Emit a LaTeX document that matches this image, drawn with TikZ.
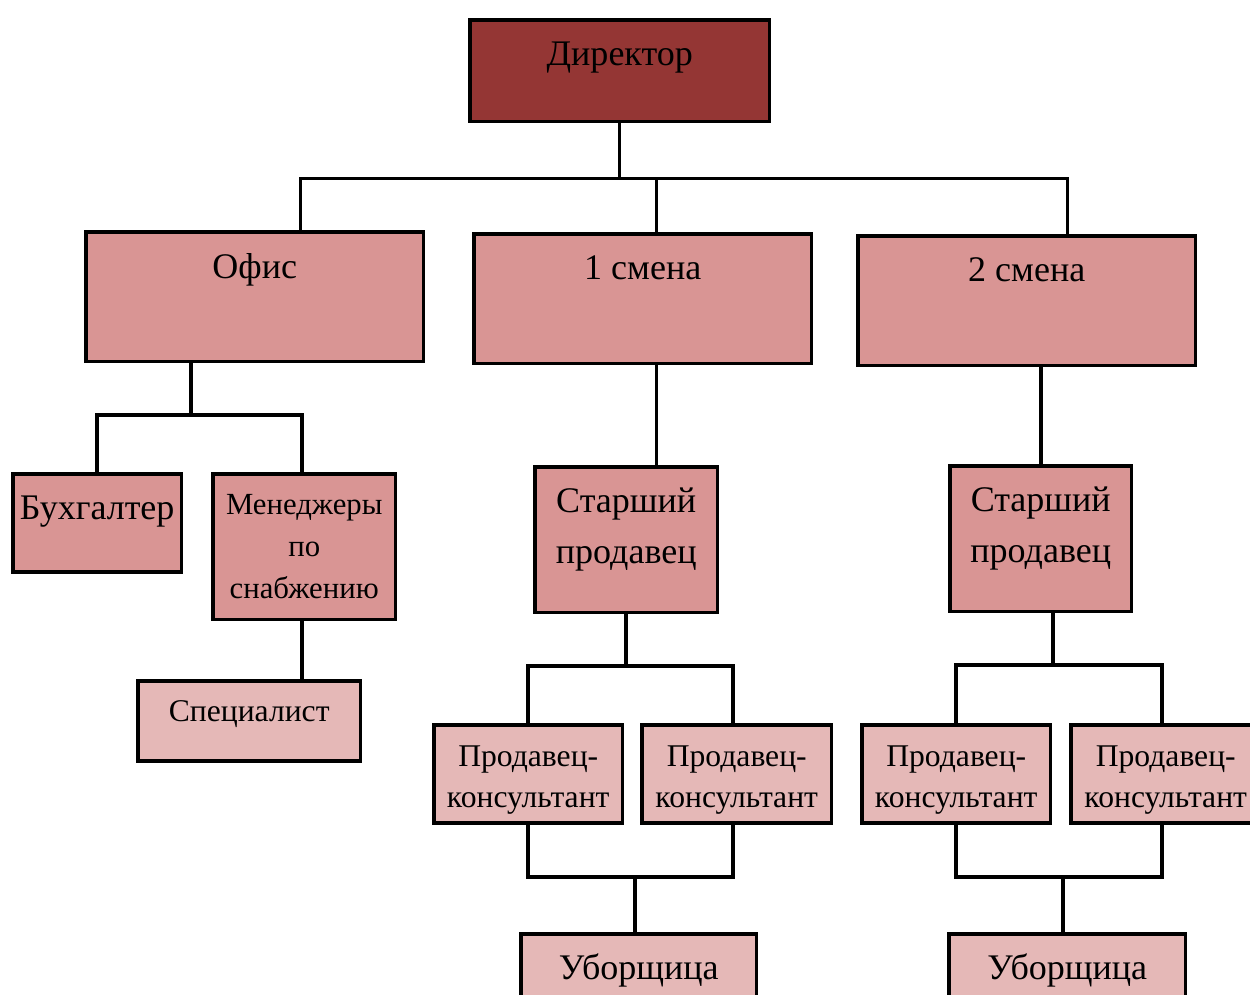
\documentclass[tikz,border=0pt]{standalone}
\usepackage{fontspec}
\setmainfont{Liberation Serif}
\definecolor{dirred}{HTML}{943634}
\definecolor{midrose}{HTML}{D99594}
\definecolor{lightrose}{HTML}{E5B8B7}
\begin{document}
\begin{tikzpicture}[x=0.02cm,y=-0.02cm,
  box/.style={draw, line width=2pt, inner sep=0pt, align=center, anchor=north west},
  big/.style={box, font=\fontsize{20.5}{29}\selectfont},
  small/.style={box, font=\fontsize{18}{23.2}\selectfont},
  link/.style={line width=2pt}]
  \clip (0,0) rectangle (1250,994);
  % top level
  \node[big, fill=dirred, minimum width=6cm, text height=.92cm, text depth=1.12cm] (dir) at (468,18) {Директор};
  \node[big, fill=midrose, minimum width=6.76cm, text height=.94cm, text depth=1.66cm] (ofis) at (84,230) {Офис};
  \node[big, fill=midrose, minimum width=6.76cm, text height=.92cm, text depth=1.68cm] (sm1) at (472,232) {1 смена};
  \node[big, fill=midrose, minimum width=6.76cm, text height=.92cm, text depth=1.68cm] (sm2) at (856,234) {2 смена};
  % office
  \node[big, fill=midrose, minimum width=3.38cm, text height=.92cm, text depth=1.04cm] (buh) at (11,472) {Бухгалтер};
  \node[small, fill=midrose, font=\fontsize{17.5}{23.9}\selectfont, minimum width=3.66cm, text height=2.5cm, text depth=.42cm] (men) at (211,472) {Менеджеры\\по\\снабжению};
  \node[small, fill=lightrose, minimum width=4.46cm, text height=.82cm, text depth=.78cm] (spec) at (136,679) {Специалист};
  % shifts
  \node[big, fill=midrose, minimum width=3.66cm, text height=1.94cm, text depth=.98cm] (st1) at (533,465) {Старший\\продавец};
  \node[big, fill=midrose, minimum width=3.64cm, text height=1.94cm, text depth=.98cm] (st2) at (948,464) {Старший\\продавец};
  \node[small, fill=lightrose, minimum width=3.78cm, text height=1.66cm, text depth=.30cm] (pk1) at (432,723) {Продавец-\\консультант};
  \node[small, fill=lightrose, minimum width=3.80cm, text height=1.66cm, text depth=.30cm] (pk2) at (640,723) {Продавец-\\консультант};
  \node[small, fill=lightrose, minimum width=3.78cm, text height=1.66cm, text depth=.30cm] (pk3) at (860,723) {Продавец-\\консультант};
  \node[small, fill=lightrose, minimum width=3.80cm, text height=1.66cm, text depth=.30cm] (pk4) at (1069,723) {Продавец-\\консультант};
  \node[big, fill=lightrose, minimum width=4.72cm, text height=.92cm, text depth=1cm] (ub1) at (519,932) {Уборщица};
  \node[big, fill=lightrose, minimum width=4.74cm, text height=.92cm, text depth=1cm] (ub2) at (947,932) {Уборщица};
  % connectors
  \coordinate (b0) at ([yshift=-1.1cm]dir.south);
  \draw[link] (dir.south) -- (b0);
  \draw[link] ([xshift=.92cm]ofis.north) |- (b0) -| ([xshift=.82cm]sm2.north);
  \draw[link] ([xshift=.28cm]sm1.north) -- ([xshift=.28cm]sm1.north |- b0);
  \coordinate (b1) at (191,415);
  \draw[link] (ofis.south -| b1) -- (b1);
  \draw[link] (buh.north) |- (b1) -| ([xshift=-.05cm]men.north);
  \draw[link] ([xshift=-.05cm]men.south) -- ([xshift=-.05cm]men.south |- spec.north);
  \draw[link] ([xshift=.28cm]sm1.south) -- ([xshift=.28cm]sm1.south |- st1.north);
  \draw[link] (st2.north) -- (st2.north |- sm2.south);
  \coordinate (b2) at (623,666);
  \draw[link] (st1.south) -- (st1.south |- b2);
  \draw[link] (pk1.north) |- (b2) -| ([xshift=-.08cm]pk2.north);
  \coordinate (b3) at (635,877);
  \draw[link] (pk1.south) |- (b3) -| ([xshift=-.08cm]pk2.south);
  \draw[link] (b3) -- (b3 |- ub1.north);
  \coordinate (b4) at (1051,665);
  \draw[link] ([xshift=.24cm]st2.south) -- ([xshift=.24cm]st2.south |- b4);
  \draw[link] (pk3.north) |- (b4) -| ([xshift=-.08cm]pk4.north);
  \coordinate (b5) at (1063,877);
  \draw[link] (pk3.south) |- (b5) -| ([xshift=-.08cm]pk4.south);
  \draw[link] (b5) -- (b5 |- ub2.north);
\end{tikzpicture}
\end{document}
